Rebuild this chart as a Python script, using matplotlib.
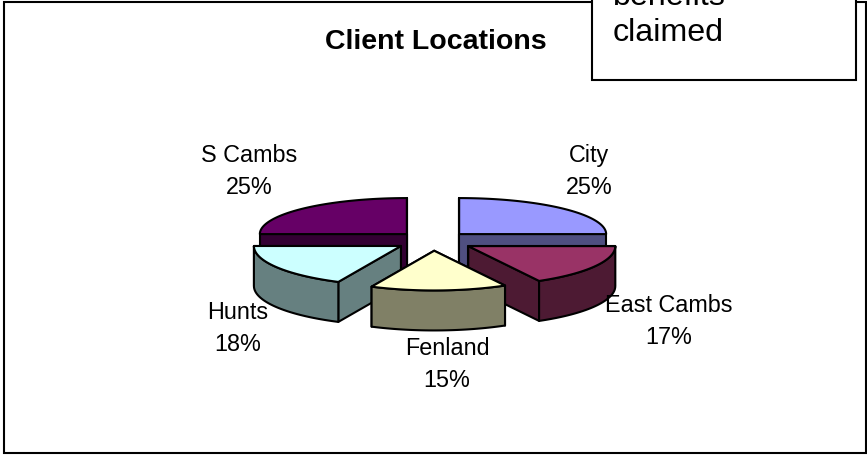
import numpy as np
import matplotlib
matplotlib.use('Agg')
import matplotlib.pyplot as plt
from matplotlib.patches import Polygon, Rectangle

plt.rcParams['font.family'] = ['Liberation Sans', 'DejaVu Sans']

categories = ['City', 'East Cambs', 'Fenland', 'Hunts', 'S Cambs']
values = [25, 17, 15, 18, 25]

top_colors = ['#9999FF', '#993366', '#FFFFCC', '#CCFFFF', '#660066']
wall_colors = ['#4F4F80', '#4D1A33', '#808066', '#668080', '#330033']
label_pos = [(589, 172), (669, 322), (447, 365), (238, 329), (249, 172)]
explode = [37, 41, 38, 38, 37]
draw_order = [0, 4, 1, 3, 2]

# pie geometry in pixels
cx, cy = 433, 241.5
rx = 147
squash_back, squash_front = 0.245, 0.27
depth = 40
lw = 1.5


def point(a, ox, oy, r=1.0):
    # angle a in degrees, clockwise from 12 o'clock
    t = np.radians(a)
    squash = squash_back if np.cos(t) > 0 else squash_front
    return ox + r * rx * np.sin(t), oy - r * rx * squash * np.cos(t)


def face(ax, pts, color, z):
    ax.add_patch(Polygon(pts, closed=True, facecolor=color, edgecolor='black',
                         linewidth=lw, joinstyle='round', zorder=z))


def draw_slice(ax, start, end, top, wall, dist, z):
    mid = (start + end) / 2
    ox, oy = point(mid, cx, cy, dist / rx)
    angles = np.linspace(start, end, 60)
    arc = np.array([point(a, ox, oy) for a in angles])

    # side faces, the one turned towards the viewer goes last
    for a in sorted((start, end), key=lambda v: -abs(v - 180)):
        px, py = point(a, ox, oy)
        face(ax, [(ox, oy), (px, py), (px, py + depth), (ox, oy + depth)], wall, z)

    # outer wall, only the part of the rim that faces the viewer
    front = np.linspace(max(start, 90), min(end, 270), 60)
    if front[-1] > front[0]:
        rim = np.array([point(a, ox, oy) for a in front])
        low = rim[::-1] + [0, depth]
        face(ax, np.vstack([rim, low]), wall, z)

    face(ax, np.vstack([[ox, oy], arc]), top, z)


fig = plt.figure(figsize=(8.67, 4.56), dpi=100)
ax = fig.add_axes([0, 0, 1, 1])
ax.set_xlim(0, 867)
ax.set_ylim(456, 0)
ax.axis('off')

# chart frame
ax.add_patch(Rectangle((4, 3), 862, 451.5, facecolor='white', edgecolor='black', linewidth=1.5, zorder=1))

edges = np.cumsum([0] + values) / sum(values) * 360
for z, i in enumerate(draw_order):
    draw_slice(ax, edges[i], edges[i + 1], top_colors[i], wall_colors[i], explode[i], 2 + z)

for name, v, (x, y) in zip(categories, values, label_pos):
    ax.text(x, y, f'{name}\n{v}%', ha='center', va='center', fontsize=16.8,
            color='black', linespacing=1.5, zorder=10)

ax.text(436, 42, 'Client Locations', ha='center', va='center', fontsize=20.5,
        fontweight='bold', color='black', zorder=10)

# overlapping text box, cut off by the top of the page
ax.add_patch(Rectangle((592, -5), 264, 86, facecolor='white', edgecolor='black', linewidth=1.5, zorder=11))
ax.text(613, 33, 'claimed', ha='left', va='center', fontsize=23.2, color='black', zorder=12)
ax.text(613, -3, 'benefits', ha='left', va='center', fontsize=23.2, color='black', zorder=12)

fig.savefig('out.png', dpi=100)
